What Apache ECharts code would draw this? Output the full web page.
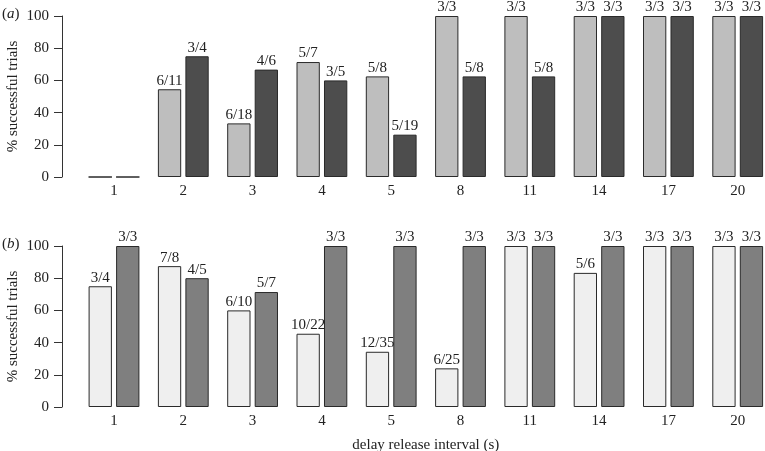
<!DOCTYPE html>
<html><head><meta charset="utf-8">
<script src="https://cdn.jsdelivr.net/npm/echarts@6/dist/echarts.min.js"></script>
<style>html,body{margin:0;padding:0;background:#fff}#c{width:765px;height:451px}</style>
</head><body><div id="c"></div>
<script>
var categories = ['1','2','3','4','5','8','11','14','17','20'];
// panel (a)
var aLightVals = [0, 54.5, 33.3, 71.4, 62.5, 100, 100, 100, 100, 100];
var aLightLabels = ['', '6/11', '6/18', '5/7', '5/8', '3/3', '3/3', '3/3', '3/3', '3/3'];
var aDarkVals = [0, 75, 66.7, 60, 26.3, 62.5, 62.5, 100, 100, 100];
var aDarkLabels = ['', '3/4', '4/6', '3/5', '5/19', '5/8', '5/8', '3/3', '3/3', '3/3'];
// panel (b)
var bLightVals = [75, 87.5, 60, 45.5, 34.3, 24, 100, 83.3, 100, 100];
var bLightLabels = ['3/4', '7/8', '6/10', '10/22', '12/35', '6/25', '3/3', '5/6', '3/3', '3/3'];
var bDarkVals = [100, 80, 71.4, 100, 100, 100, 100, 100, 100, 100];
var bDarkLabels = ['3/3', '4/5', '5/7', '3/3', '3/3', '3/3', '3/3', '3/3', '3/3', '3/3'];
var yTicks = [0, 20, 40, 60, 80, 100];

var FONT = 'Liberation Serif';
var FS = 15;
var chart = echarts.init(document.getElementById('c'));

function mkX(gi, showName) {
  return {
    type: 'category', gridIndex: gi, data: categories,
    axisLine: {show: false}, axisTick: {show: false},
    axisLabel: {color: '#222', fontFamily: FONT, fontSize: FS, margin: 7},
    name: showName ? 'delay release interval (s)' : '',
    nameLocation: 'middle', nameGap: 31, nameMoveOverlap: false,
    nameTextStyle: {color: '#222', fontFamily: FONT, fontSize: FS},
    boundaryGap: true
  };
}
function mkY(gi) {
  return {
    type: 'value', gridIndex: gi, min: yTicks[0], max: yTicks[yTicks.length - 1], interval: 20,
    offset: 17.35,
    axisLine: {show: true, lineStyle: {color: '#333', width: 1}},
    axisTick: {show: true, length: 8, lineStyle: {color: '#333'}},
    splitLine: {show: false},
    axisLabel: {color: '#222', fontFamily: FONT, fontSize: FS, margin: 13},
    name: '% successful trials', nameLocation: 'middle', nameGap: 41, nameRotate: 90,
    nameMoveOverlap: false,
    nameTextStyle: {color: '#222', fontFamily: FONT, fontSize: FS}
  };
}
function mkSeries(gi, vals, labels, fill) {
  return {
    type: 'bar', xAxisIndex: gi, yAxisIndex: gi,
    barWidth: 23.3, barGap: '18%',
    data: vals,
    itemStyle: {color: fill, borderColor: '#2a2a2a', borderWidth: 1},
    label: {
      show: true, position: 'top', distance: 1,
      color: '#222', fontFamily: FONT, fontSize: FS,
      formatter: function (p) { return labels[p.dataIndex]; }
    },
    animation: false
  };
}

chart.setOption({
  animation: false,
  grid: [
    {left: 79.35, width: 693, top: 16, height: 161, outerBoundsMode: 'none', containLabel: false},
    {left: 79.35, width: 693, top: 246, height: 161, outerBoundsMode: 'none', containLabel: false}
  ],
  xAxis: [mkX(0, false), mkX(1, true)],
  yAxis: [mkY(0), mkY(1)],
  series: [
    mkSeries(0, aLightVals, aLightLabels, '#bebebe'),
    mkSeries(0, aDarkVals, aDarkLabels, '#4d4d4d'),
    mkSeries(1, bLightVals, bLightLabels, '#efefef'),
    mkSeries(1, bDarkVals, bDarkLabels, '#7f7f7f')
  ],
  graphic: [
    {type: 'text', left: 2, top: 7, style: {
      text: '({i|a})', fontFamily: FONT, fontSize: FS, fill: '#222',
      rich: {i: {fontStyle: 'italic', fontFamily: FONT, fontSize: FS, fill: '#222'}}}},
    {type: 'text', left: 2, top: 237, style: {
      text: '({i|b})', fontFamily: FONT, fontSize: FS, fill: '#222',
      rich: {i: {fontStyle: 'italic', fontFamily: FONT, fontSize: FS, fill: '#222'}}}}
  ]
});
</script></body></html>
